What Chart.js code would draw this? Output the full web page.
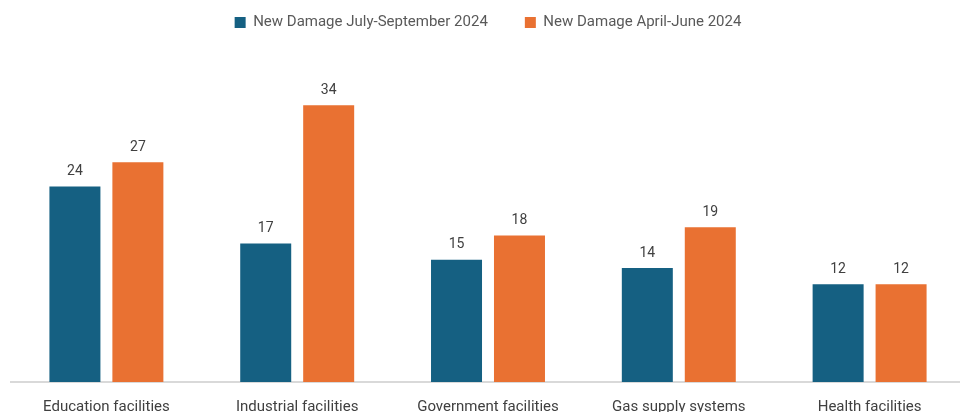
<!DOCTYPE html>
<html>
<head>
<meta charset="utf-8">
<script src="https://cdn.jsdelivr.net/npm/chart.js@4.4.1/dist/chart.umd.min.js"></script>
<style>
  html, body { margin: 0; padding: 0; background: #fff; overflow: hidden; }
  #wrap { width: 965px; height: 412px; }
</style>
</head>
<body>
<div id="wrap"><canvas id="myChart"></canvas></div>
<script>
const categories = ["Education facilities", "Industrial facilities", "Government facilities", "Gas supply systems", "Health facilities"]
const julySep = [24, 17, 15, 14, 12]
const aprJun = [27, 34, 18, 19, 12]

// draws the number above each bar
const valueLabels = {
    id: "valueLabels",
    afterDatasetsDraw(chart) {
        const ctx = chart.ctx
        ctx.save()
        ctx.font = "14px Roboto"
        ctx.fillStyle = "#404040"
        ctx.textAlign = "center"
        ctx.textBaseline = "bottom"
        chart.data.datasets.forEach((ds, i) => {
            chart.getDatasetMeta(i).data.forEach((bar, j) => {
                ctx.fillText(ds.data[j], bar.x, bar.y - 8)
            })
        })
        ctx.restore()
    }
}

function createChart(){
    let htmlChart = document.getElementById("myChart")

    new Chart(htmlChart, {
        type: "bar",
        data: {
            labels: categories,
            datasets: [
                {
                    label: "New Damage July-September 2024",
                    data: julySep,
                    backgroundColor: "#156082",
                    barPercentage: 0.81,
                    categoryPercentage: 0.66
                },
                {
                    label: "New Damage April-June 2024",
                    data: aprJun,
                    backgroundColor: "#E97132",
                    barPercentage: 0.81,
                    categoryPercentage: 0.66
                }
            ]
        },
        options: {
            responsive: true,
            maintainAspectRatio: false,
            animation: false,
            layout: {
                padding: { left: 11, right: 0, top: -22, bottom: 0 }
            },
            plugins: {
                legend: {
                    display: true,
                    position: "top",
                    labels: {
                        color: "#595959",
                        font: { family: "Roboto", size: 15 },
                        boxWidth: 11,
                        boxHeight: 11,
                        padding: 37
                    }
                },
                tooltip: { enabled: false }
            },
            scales: {
                x: {
                    grid: { display: false },
                    border: { color: "#d9d9d9", width: 2 },
                    ticks: {
                        color: "#404040",
                        font: { family: "Roboto", size: 15 },
                        padding: 8,
                        maxRotation: 0
                    },
                    afterFit(scale) { scale.height = 30 }
                },
                y: {
                    display: false,
                    min: 0,
                    max: 42
                }
            }
        },
        plugins: [valueLabels]
    })
}

createChart()
</script>
</body>
</html>
